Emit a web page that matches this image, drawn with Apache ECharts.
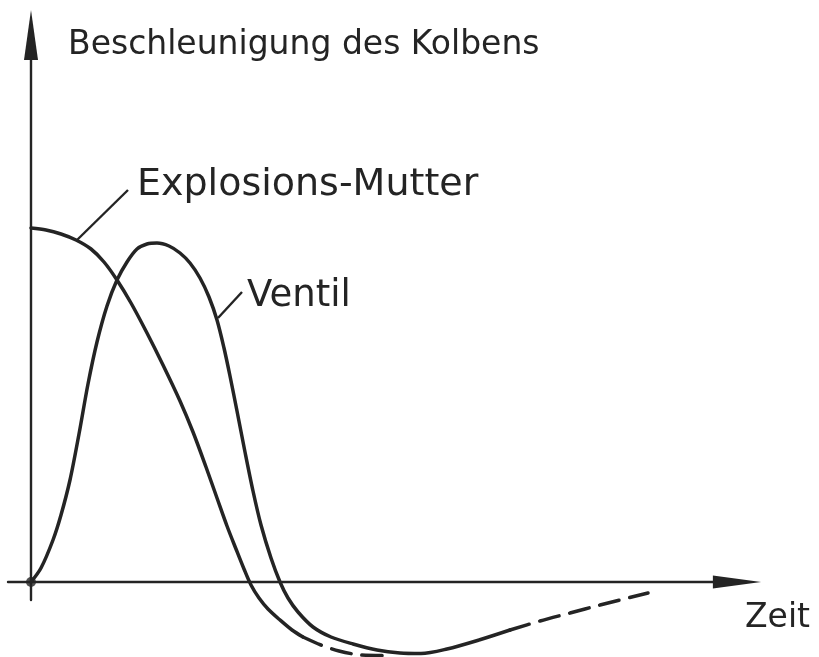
<!DOCTYPE html>
<html>
<head>
<meta charset="utf-8">
<title>Beschleunigung des Kolbens</title>
<script src="https://cdn.jsdelivr.net/npm/echarts@6/dist/echarts.min.js"></script>
<style>
  html, body { margin: 0; padding: 0; background: #fff; }
  #chart { width: 819px; height: 657px; }
</style>
</head>
<body>
<div id="chart"></div>
<script>
var mutterSolid = [[0, 354], [15, 352], [30, 348], [45, 342], [60, 333], [73, 320], [86, 302],
  [100, 279], [116, 249], [132, 217], [149, 181], [162, 150], [175, 115], [186, 84],
  [196, 56], [205, 33], [213, 13], [220, -3], [228, -16], [237, -27], [249, -38],
  [261, -48], [272, -55]];
var mutterDashed = [[272, -55], [290, -63], [308, -69], [330, -73], [352, -73.5]];

var ventilSolid = [[0, 0], [10, 14], [22, 42], [30, 67], [39, 102], [48, 148], [57, 198],
  [66, 240], [76, 276], [86, 302], [96, 320], [106, 333], [116, 338], [126, 339],
  [138, 336], [149, 329], [159, 319], [169, 304], [178, 285], [186, 262], [193, 234],
  [199, 206], [206, 171], [214, 130], [222, 91], [230, 57], [240, 24], [249, 0],
  [257, -16], [267, -30], [282, -45], [300, -55], [322, -62], [346, -68], [369, -71],
  [390, -71.5], [416, -67], [448, -58], [479, -48]];
var ventilDashed = [[479, -48], [509, -39], [539, -31], [569, -23], [617, -11]];

var origin = [[0, 0]];

// Hinweislinien zu den Beschriftungen
var mutterLeader = [[46, 342], [97, 392]];
var ventilLeader = [[187, 264], [211, 290]];

// Beschriftungen: Text, Ankerpunkt (links, Grundlinie), Schriftgroesse
var labels = [
  { text: 'Beschleunigung des Kolbens', at: [37, 527], size: 33 },
  { text: 'Explosions-Mutter', at: [106, 385], size: 38 },
  { text: 'Ventil', at: [216, 275], size: 37 },
  { text: 'Zeit', at: [714, -46], size: 33 }
];

var ink = '#242424';
var chart = echarts.init(document.getElementById('chart'));

function curve(data, dashed) {
  return {
    type: 'line',
    data: data,
    smooth: 0.3,
    symbol: 'none',
    clip: false,
    silent: true,
    lineStyle: { color: ink, width: 3.5, type: dashed ? [20, 11] : 'solid', cap: 'round' }
  };
}

function leader(data) {
  return {
    type: 'line',
    data: data,
    symbol: 'none',
    clip: false,
    silent: true,
    lineStyle: { color: ink, width: 2.4 }
  };
}

chart.setOption({
  animation: false,
  backgroundColor: '#fff',
  grid: { left: 8, right: 82, top: 35, bottom: 57 },
  xAxis: {
    type: 'value',
    min: -23,
    max: 706,
    axisLine: {
      onZero: true,
      lineStyle: { color: ink, width: 2.4 },
      symbol: ['none', 'path://M7,0 L14,52 L0,52 Z'],
      symbolSize: [13, 52]
    },
    axisTick: { show: false },
    axisLabel: { show: false },
    splitLine: { show: false }
  },
  yAxis: {
    type: 'value',
    min: -18,
    max: 547,
    axisLine: {
      show: true,
      onZero: true,
      lineStyle: { color: ink, width: 2.4 },
      symbol: ['none', 'path://M7,0 L14,50 L0,50 Z'],
      symbolSize: [14, 50]
    },
    axisTick: { show: false },
    axisLabel: { show: false },
    splitLine: { show: false }
  },
  series: [
    curve(mutterSolid, false),
    curve(mutterDashed, true),
    curve(ventilSolid, false),
    curve(ventilDashed, true),
    leader(mutterLeader),
    leader(ventilLeader),
    {
      type: 'scatter',
      data: origin,
      symbolSize: 10,
      silent: true,
      itemStyle: { color: ink }
    }
  ]
});

// Texte ueber die Achsen-Skalen platzieren (Anker = Grundlinie)
chart.setOption({
  graphic: labels.map(function (l) {
    var p = chart.convertToPixel({ gridIndex: 0 }, l.at);
    return {
      type: 'text',
      x: p[0],
      y: p[1] + l.size * 0.2,
      silent: true,
      style: {
        text: l.text,
        fill: ink,
        font: l.size + 'px "DejaVu Sans"',
        textAlign: 'left',
        textVerticalAlign: 'bottom'
      }
    };
  })
});
</script>
</body>
</html>
